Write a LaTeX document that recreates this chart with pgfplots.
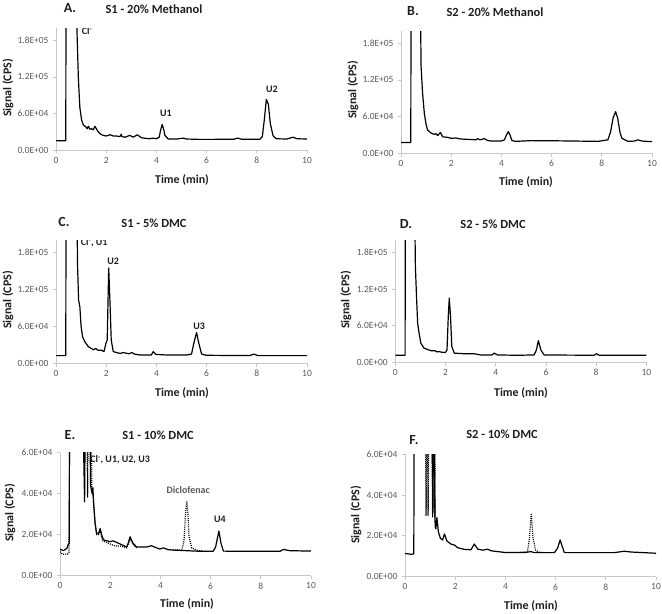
\documentclass[border=0pt]{standalone}
\usepackage{fontspec}
\setmainfont{Carlito}
\usepackage{pgfplots}
\pgfplotsset{compat=1.18}
\definecolor{axgray}{RGB}{200,200,200}
\definecolor{tickgray}{RGB}{89,89,89}
\definecolor{txt}{RGB}{30,30,30}
\tikzset{
 tr/.style={black, line width=1.2bp, line join=round, mark=none},
 dot/.style={tr, dash pattern=on 1bp off 1.1bp},
 lab/.style={font=\bfseries\fontsize{10}{11}\selectfont, text=txt, inner sep=0pt}
}
\pgfplotsset{
 chrom/.style={scale only axis, width=251bp, height=122bp, xmin=0, xmax=10,
  axis x line=bottom, axis y line=left,
  axis line style={-, draw=axgray, line width=0.8bp},
  tick style={draw=axgray, line width=0.8bp}, tick align=outside, major tick length=3.5bp,
  xtick={0,2,4,6,8,10}, xticklabels={0,2,4,6,8,10},
  scaled y ticks=false, scaled x ticks=false,
  ticklabel style={font=\fontsize{9.5}{10}\selectfont, text=tickgray},
  yticklabel style={xshift=-0.5bp},
  anchor=south west, clip=true},
 big/.style={ymin=0, ymax=2e5, ytick={0,6e4,1.2e5,1.8e5}, yticklabels={0.0E+00,6.0E+04,1.2E+05,1.8E+05}},
 small/.style={ymin=0, ymax=6e4, ytick={0,2e4,4e4,6e4}, yticklabels={0.0E+00,2.0E+04,4.0E+04,6.0E+04}}
}
\newcommand{\ttl}[1]{{\bfseries\fontsize{12.5}{13}\selectfont #1}}
\newcommand{\ltr}[1]{{\bfseries\fontsize{14}{15}\selectfont #1}}
\newcommand{\axl}[1]{{\bfseries\fontsize{12}{13}\selectfont #1}}
\begin{document}
\begin{tikzpicture}[x=1bp,y=1bp]
\useasboundingbox (0,0) rectangle (662,614);
% ---------- A ----------
\begin{axis}[chrom, big, at={(56bp,464bp)}, height=121.7bp]
\addplot[tr] coordinates {(0,1.52e4) (0.39,1.52e4) (0.40,3e5) (0.80,3e5) (0.84,1.9e5) (0.89,1.19e5) (0.95,7e4) (1.02,4.9e4) (1.09,4.1e4) (1.19,3.8e4) (1.24,3.5e4) (1.29,3.9e4) (1.35,3.4e4) (1.42,3.5e4) (1.48,3.3e4) (1.55,3.9e4) (1.62,3.4e4) (1.68,3e4) (1.78,2.6e4) (1.88,2.4e4) (2.0,2.3e4) (2.15,2.5e4) (2.28,2.3e4) (2.41,2.3e4) (2.55,2.2e4) (2.60,2.6e4) (2.63,2.2e4) (2.75,2.1e4) (2.94,2.4e4) (3.08,2.1e4) (3.24,2.5e4) (3.41,2e4) (3.6,1.9e4) (3.74,1.85e4) (3.85,1.95e4) (4.0,1.85e4) (4.11,2.1e4) (4.17,3.3e4) (4.23,4.2e4) (4.29,3.4e4) (4.34,2.4e4) (4.47,1.8e4) (4.8,1.8e4) (5.07,1.95e4) (5.2,1.8e4) (5.73,1.74e4) (6.5,1.75e4) (7.06,1.75e4) (7.25,1.95e4) (7.4,1.75e4) (8.12,1.75e4) (8.22,2.2e4) (8.30,5e4) (8.38,8.3e4) (8.46,7.5e4) (8.54,4.3e4) (8.65,2.3e4) (8.78,1.85e4) (9.2,1.8e4) (9.44,2.1e4) (9.6,1.85e4) (10,1.8e4)};
\node[lab, anchor=west] at (axis cs:1.02,1.95e5) {Cl\textsuperscript{-}};
\node[lab] at (axis cs:4.38,6.0e4) {U1};
\node[lab] at (axis cs:8.6,1.0e5) {U2};
\end{axis}
% ---------- B ----------
\begin{axis}[chrom, big, at={(401bp,460.7bp)}, height=122.2bp]
\addplot[tr] coordinates {(0,1.75e4) (0.39,1.75e4) (0.40,3e5) (0.76,3e5) (0.80,1.42e5) (0.86,9.8e4) (0.93,6.5e4) (1.0,4.7e4) (1.06,3.8e4) (1.2,3.3e4) (1.33,3.1e4) (1.4,3.2e4) (1.46,2.9e4) (1.57,3.4e4) (1.66,2.7e4) (1.86,2.6e4) (2.0,2.45e4) (2.19,2.5e4) (2.35,2.35e4) (2.53,2.3e4) (2.8,2.25e4) (2.99,2.2e4) (3.05,2.4e4) (3.15,2.2e4) (3.32,2.4e4) (3.45,2.1e4) (3.59,2e4) (3.99,2e4) (4.12,2.2e4) (4.2,3e4) (4.28,3.55e4) (4.34,3e4) (4.42,2.1e4) (4.55,1.95e4) (5.19,2.07e4) (6,2.05e4) (7,2e4) (7.85,1.95e4) (8.24,2.2e4) (8.35,3.5e4) (8.45,5.8e4) (8.55,6.8e4) (8.63,5.8e4) (8.72,3.5e4) (8.8,2.45e4) (9.04,1.95e4) (9.3,2e4) (9.44,2.2e4) (9.6,2e4) (10,1.9e4)};
\end{axis}
% ---------- C ----------
\begin{axis}[chrom, big, at={(56bp,250.7bp)}, height=122.9bp]
\addplot[tr] coordinates {(0,1.25e4) (0.39,1.25e4) (0.40,3e5) (0.82,3e5) (0.86,1.57e5) (0.90,1.03e5) (0.95,9.2e4) (1.0,6e4) (1.06,4.3e4) (1.15,3.5e4) (1.29,2.7e4) (1.49,2.2e4) (1.58,2.4e4) (1.68,2.1e4) (1.8,2.15e4) (1.91,1.9e4) (1.99,3.25e4) (2.04,3.8e4) (2.1,15.5e4) (2.15,1e5) (2.2,3.8e4) (2.28,1.9e4) (2.55,1.6e4) (2.68,1.75e4) (2.9,1.55e4) (3.03,1.75e4) (3.12,1.5e4) (3.34,1.35e4) (3.8,1.35e4) (3.87,1.9e4) (3.98,1.45e4) (4.4,1.35e4) (5.2,1.35e4) (5.4,1.5e4) (5.49,3.25e4) (5.6,5e4) (5.69,3.25e4) (5.8,1.5e4) (5.99,1.3e4) (7.72,1.25e4) (7.88,1.5e4) (8.05,1.25e4) (10,1.25e4)};
\node[lab, anchor=west] at (axis cs:0.98,1.96e5) {Cl\textsuperscript{-}, U1};
\node[lab] at (axis cs:2.28,1.66e5) {U2};
\node[lab] at (axis cs:5.7,6.1e4) {U3};
\end{axis}
% ---------- D ----------
\begin{axis}[chrom, big, at={(395.3bp,251.7bp)}, height=122.2bp]
\addplot[tr] coordinates {(0,1.15e4) (0.39,1.15e4) (0.40,3e5) (0.76,3e5) (0.80,1.57e5) (0.85,1.02e5) (0.89,6.4e4) (0.95,4.7e4) (1.02,3.1e4) (1.15,2.3e4) (1.42,1.9e4) (1.58,1.9e4) (1.65,1.7e4) (1.75,1.75e4) (1.85,1.65e4) (1.99,1.6e4) (2.06,2e4) (2.11,7.5e4) (2.15,1.05e5) (2.2,7.5e4) (2.25,2.6e4) (2.35,1.5e4) (2.75,1.4e4) (3.14,1.4e4) (3.4,1.2e4) (3.85,1.2e4) (3.94,1.5e4) (4.07,1.2e4) (4.87,1.15e4) (5.53,1.2e4) (5.62,2e4) (5.7,3.55e4) (5.8,2e4) (5.93,1.2e4) (7.92,1.15e4) (8.01,1.4e4) (8.12,1.15e4) (10,1.15e4)};
\end{axis}
% ---------- E ----------
\begin{axis}[chrom, small, at={(60bp,38.3bp)}, height=123bp]
\addplot[dot] coordinates {(0,1.17e4) (0.1,1.05e4) (0.3,1.05e4) (0.36,1.15e4) (0.39,1e5)};
\addplot[dot] coordinates {(1.05,1e5) (1.1,3.8e4) (1.14,1e5) (1.22,1e5) (1.27,4.2e4) (1.32,3.9e4) (1.4,2.5e4) (1.46,2.0e4) (1.53,2e4) (1.6,2.2e4) (1.7,1.7e4) (1.9,1.6e4) (2.19,1.45e4) (2.4,1.45e4) (2.66,1.35e4) (2.8,1.8e4) (2.9,1.55e4) (3.05,1.35e4)};
\addplot[dot] coordinates {(4.5,1.25e4) (4.85,1.25e4) (4.94,1.7e4) (5.0,3e4) (5.05,3.65e4) (5.1,3e4) (5.14,1.9e4) (5.25,1.35e4) (5.45,1.25e4) (5.7,1.2e4)};
\addplot[tr] coordinates {(0,1.3e4) (0.13,1.22e4) (0.27,1.33e4) (0.33,1.53e4) (0.37,1.6e4) (0.38,1e5) (0.88,1e5) (0.98,3.6e4) (1.02,1e5) (1.16,1e5) (1.22,4.4e4) (1.28,4e4) (1.31,4.3e4) (1.34,3.5e4) (1.4,2.55e4) (1.46,2.06e4) (1.53,2.05e4) (1.6,2.3e4) (1.66,2e4) (1.73,1.75e4) (1.99,1.66e4) (2.12,1.7e4) (2.39,1.55e4) (2.66,1.4e4) (2.72,1.6e4) (2.79,1.9e4) (2.9,1.6e4) (3.05,1.4e4) (3.45,1.4e4) (3.65,1.46e4) (3.8,1.38e4) (3.98,1.3e4) (4.12,1.36e4) (4.3,1.27e4) (4.51,1.25e4) (5.05,1.22e4) (5.58,1.19e4) (6.1,1.19e4) (6.2,1.4e4) (6.33,2.18e4) (6.41,1.6e4) (6.51,1.2e4) (6.9,1.19e4) (8.76,1.19e4) (8.9,1.28e4) (9.16,1.22e4) (10,1.2e4)};
\node[lab, anchor=west] at (axis cs:1.2,5.64e4) {Cl\textsuperscript{-}, U1, U2, U3};
\node[lab, text=tickgray] at (axis cs:5.11,4.18e4) {Diclofenac};
\node[lab] at (axis cs:6.37,2.76e4) {U4};
\end{axis}
% ---------- F ----------
\begin{axis}[chrom, small, at={(405bp,37.3bp)}, height=122.4bp]
\addplot[dot] coordinates {(0.80,1e5) (0.84,3.0e4) (0.88,1e5) (0.92,3.0e4) (0.96,1e5)};
\addplot[dot] coordinates {(1.06,1e5) (1.1,2.9e4) (1.14,1e5) (1.18,2.9e4) (1.22,1e5)};
\addplot[dot] coordinates {(4.6,1.2e4) (4.88,1.22e4) (4.95,1.8e4) (5.03,3.1e4) (5.1,1.9e4) (5.2,1.3e4) (5.35,1.2e4) (5.6,1.18e4)};
\addplot[tr] coordinates {(0,1.14e4) (0.24,1.1e4) (0.35,1.12e4) (0.37,1e5) (1.05,1e5) (1.11,3.2e4) (1.15,1e5) (1.2,2.45e4) (1.23,2.35e4) (1.27,2.9e4) (1.33,2.2e4) (1.41,1.88e4) (1.5,1.8e4) (1.57,2.1e4) (1.67,1.75e4) (1.83,1.6e4) (1.97,1.55e4) (2.1,1.42e4) (2.36,1.34e4) (2.63,1.32e4) (2.76,1.6e4) (2.9,1.35e4) (3.1,1.3e4) (3.29,1.35e4) (3.43,1.27e4) (3.96,1.19e4) (4.75,1.18e4) (5.02,1.23e4) (5.15,1.18e4) (5.95,1.18e4) (6.08,1.4e4) (6.18,1.8e4) (6.26,1.5e4) (6.35,1.18e4) (8.34,1.18e4) (8.74,1.25e4) (9.0,1.21e4) (10,1.15e4)};
\end{axis}
% ---------- titles ----------
\node[text=txt] at (70,606) {\ltr{A.}};
\node[text=txt] at (154,605) {\ttl{S1 - 20\% Methanol}};
\node[text=txt] at (413,603) {\ltr{B.}};
\node[text=txt] at (495,602) {\ttl{S2 - 20\% Methanol}};
\node[text=txt] at (64,392) {\ltr{C.}};
\node[text=txt] at (154,391) {\ttl{S1 - 5\% DMC}};
\node[text=txt] at (406,390) {\ltr{D.}};
\node[text=txt] at (493,390) {\ttl{S2 - 5\% DMC}};
\node[text=txt] at (70,179) {\ltr{E.}};
\node[text=txt] at (158,179) {\ttl{S1 - 10\% DMC}};
\node[text=txt] at (414,174) {\ltr{F.}};
\node[text=txt] at (502,180) {\ttl{S2 - 10\% DMC}};
% ---------- axis labels ----------
\foreach \x/\y in {8/526, 353/524, 8/314, 346/314, 10/101, 356/99}
  \node[text=txt, rotate=90] at (\x,\y) {\axl{Signal (CPS)}};
\foreach \x/\y in {182/434, 526/432, 182/221, 521/221, 187/10, 531/8}
  \node[text=txt] at (\x,\y) {\axl{Time (min)}};
\end{tikzpicture}
\end{document}
